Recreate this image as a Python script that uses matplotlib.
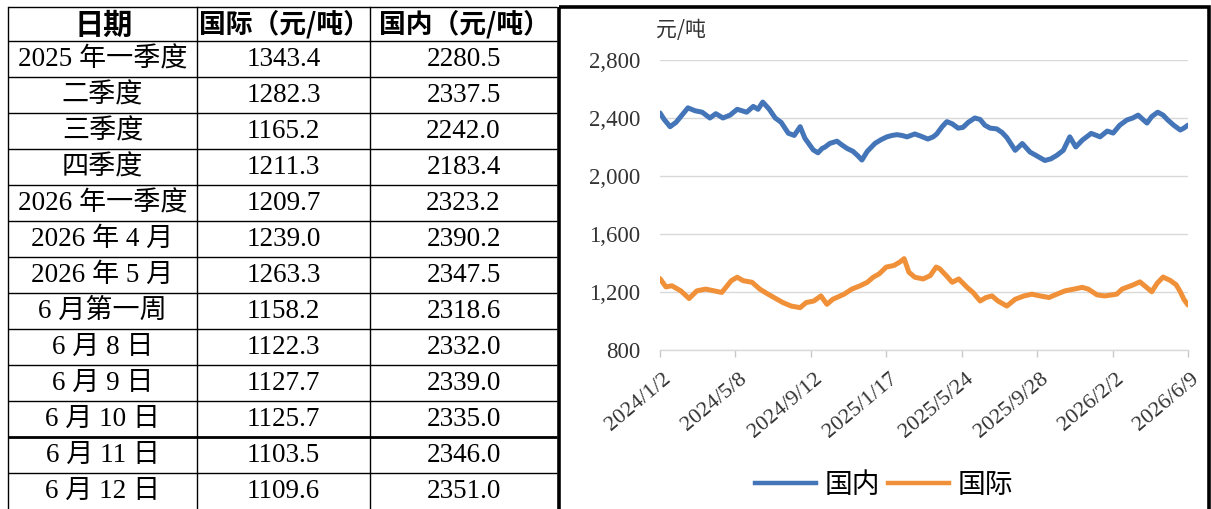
import matplotlib
matplotlib.use("Agg")
import matplotlib.pyplot as plt
import matplotlib.patches as mpatches
from matplotlib.lines import Line2D
from matplotlib.transforms import ScaledTranslation
import pandas as pd

plt.rcParams['font.family'] = ['Liberation Serif', 'Noto Sans CJK SC', 'DejaVu Sans']

# ---------------- table data ----------------
table_header = ["日期", "国际（元/吨）", "国内（元/吨）"]
table_dates = ["2025 年一季度", "二季度", "三季度", "四季度", "2026 年一季度",
               "2026 年 4 月", "2026 年 5 月", "6 月第一周", "6 月 8 日", "6 月 9 日",
               "6 月 10 日", "6 月 11 日", "6 月 12 日"]
table_intl = ["1343.4", "1282.3", "1165.2", "1211.3", "1209.7", "1239.0", "1263.3",
              "1158.2", "1122.3", "1127.7", "1125.7", "1103.5", "1109.6"]
table_dom = ["2280.5", "2337.5", "2242.0", "2183.4", "2323.2", "2390.2", "2347.5",
             "2318.6", "2332.0", "2339.0", "2335.0", "2346.0", "2351.0"]

# ---------------- chart data ----------------
start_date = "2024-01-02"
dom_days = [0, 7, 17, 27, 37, 47, 59, 71, 84, 94, 106, 118, 130, 138, 146, 157, 165, 173,
            184, 194, 204, 216, 226, 236, 244, 258, 266, 273, 278, 286, 298, 306, 315, 325,
            333, 340, 349, 362, 372, 382, 391, 399, 407, 416, 429, 439, 451, 460, 466, 475,
            483, 492, 502, 510, 519, 530, 539, 547, 556, 567, 576, 584, 598, 610, 623, 633,
            648, 658, 668, 679, 690, 700, 711, 726, 741, 753, 763, 774, 786, 796, 805, 813,
            820, 828, 838, 847, 855, 865, 876, 882, 889]
dom_vals = [2435, 2390, 2340, 2370, 2420, 2470, 2450, 2440, 2400, 2430, 2400, 2420, 2460,
            2450, 2440, 2480, 2460, 2510, 2460, 2400, 2370, 2295, 2280, 2340, 2260, 2180,
            2160, 2190, 2200, 2225, 2240, 2215, 2190, 2170, 2140, 2110, 2170, 2225, 2250,
            2270, 2280, 2285, 2280, 2270, 2290, 2275, 2255, 2270, 2290, 2340, 2375, 2360,
            2330, 2335, 2370, 2400, 2390, 2350, 2330, 2325, 2300, 2265, 2177, 2224, 2165,
            2142, 2107, 2118, 2142, 2177, 2270, 2200, 2247, 2294, 2270, 2310, 2296, 2350,
            2386, 2400, 2420, 2390, 2365, 2410, 2440, 2420, 2386, 2350, 2317, 2330, 2351]
intl_days = [0, 10, 20, 35, 49, 62, 77, 91, 104, 120, 130, 140, 155, 168, 182, 197, 207,
             221, 236, 246, 259, 271, 281, 291, 310, 323, 337, 349, 359, 369, 381, 394, 404,
             411, 419, 429, 443, 455, 465, 471, 482, 492, 503, 517, 527, 539, 549, 559, 569,
             584, 598, 613, 626, 640, 655, 668, 682, 697, 711, 721, 736, 749, 769, 778, 796,
             808, 828, 837, 847, 859, 869, 876, 882, 889]
intl_vals = [1292, 1235, 1243, 1208, 1155, 1208, 1220, 1208, 1197, 1278, 1302, 1278, 1267,
             1220, 1185, 1150, 1127, 1103, 1092, 1127, 1138, 1173, 1115, 1150, 1185, 1220,
             1243, 1267, 1302, 1325, 1372, 1383, 1407, 1430, 1337, 1302, 1290, 1313, 1372,
             1360, 1313, 1267, 1290, 1232, 1197, 1138, 1162, 1173, 1138, 1103, 1150, 1173,
             1185, 1173, 1162, 1185, 1208, 1220, 1232, 1220, 1180, 1173, 1185, 1220, 1248,
             1270, 1202, 1260, 1303, 1280, 1250, 1202, 1150, 1110]
x_tick_labels = ["2024/1/2", "2024/5/8", "2024/9/12", "2025/1/17", "2025/5/24",
                 "2025/9/28", "2026/2/2", "2026/6/9"]
y_ticks = [800, 1200, 1600, 2000, 2400, 2800]
series_names = ["国内", "国际"]
series_colors = ["#4475B8", "#F0913A"]

W, H = 1211, 509
fig = plt.figure(figsize=(W / 100, H / 100), dpi=100)
fig.patch.set_facecolor("white")

# ---------------- table (pixel overlay) ----------------
ax_t = fig.add_axes([0, 0, 1, 1])
ax_t.set_xlim(0, W)
ax_t.set_ylim(H, 0)
ax_t.axis("off")

col_edges = [8, 197, 370, 557]
row_edges = [6.5, 40.5, 76.5, 112.5, 148.5, 184.5, 220.5, 256.5, 292.5, 328.5,
             364.5, 400.5, 436.5, 472.5, 509]
for i, y in enumerate(row_edges[:-1]):
    lw = 1.0
    if i == 12:
        lw = 2.0
    ax_t.plot([col_edges[0], col_edges[-1]], [y, y], color="black", lw=lw,
              solid_capstyle="butt")
for x in col_edges[:-1]:
    ax_t.plot([x, x], [row_edges[0], H], color="black", lw=1.0)

col_centers = [(col_edges[i] + col_edges[i + 1]) / 2 for i in range(3)]
hdr_y = (row_edges[0] + row_edges[1]) / 2 + 1
hdr_sizes = [21, 19.3, 19.3]
for cx, txt, fs in zip(col_centers, table_header, hdr_sizes):
    ax_t.text(cx + 1, hdr_y, txt, ha="center", va="center", fontsize=fs,
              family=["Noto Sans CJK SC"], weight="bold", color="black")
for r in range(len(table_dates)):
    cy = (row_edges[r + 1] + row_edges[r + 2]) / 2 + 1
    for cx, txt in zip(col_centers, [table_dates[r], table_intl[r], table_dom[r]]):
        ax_t.text(cx, cy, txt, ha="center", va="center", fontsize=19.5,
                  family=["Liberation Serif", "Noto Sans CJK SC"], color="black")

# chart panel border
ax_t.add_patch(mpatches.Rectangle((558.5, 6.5), 650, 510, fill=False,
                                  edgecolor="black", lw=2.6, zorder=10))

# ---------------- line chart ----------------
x0, x1, y0, y1 = 660, 1188, 60, 350
ax = fig.add_axes([x0 / W, 1 - y1 / H, (x1 - x0) / W, (y1 - y0) / H])
ax.patch.set_alpha(0)

t0 = pd.Timestamp(start_date)
dom_dates = t0 + pd.to_timedelta(dom_days, unit="D")
intl_dates = t0 + pd.to_timedelta(intl_days, unit="D")
tick_dates = pd.to_datetime(x_tick_labels, format="%Y/%m/%d")

l1, = ax.plot(dom_dates, dom_vals, color=series_colors[0], lw=3.6,
              solid_joinstyle="round", solid_capstyle="round")
l2, = ax.plot(intl_dates, intl_vals, color=series_colors[1], lw=3.6,
              solid_joinstyle="round", solid_capstyle="round")

ax.set_xlim(tick_dates[0], tick_dates[-1])
ax.set_ylim(800, 2800)
ax.set_yticks(y_ticks)
ax.set_yticklabels([f"{v:,}" for v in y_ticks])
ax.grid(axis="y", color="#d9d9d9", lw=1.0)
ax.set_axisbelow(True)
for s in ["top", "right", "left"]:
    ax.spines[s].set_visible(False)
ax.spines["bottom"].set_color("#d9d9d9")
ax.spines["bottom"].set_linewidth(1.0)
ax.tick_params(axis="y", length=0, pad=14, labelsize=16.5, labelcolor="#333333")
ax.tick_params(axis="x", length=5, color="#c8c8c8", width=1.0, pad=2,
               labelsize=16, labelcolor="#333333")
ax.set_xticks(tick_dates)
ax.set_xticklabels(x_tick_labels, rotation=40, ha="right", va="top",
                   rotation_mode="anchor")
for lbl in ax.get_xticklabels():
    lbl.set_transform(lbl.get_transform() + ScaledTranslation(3 / 100, -10 / 100,
                                                              fig.dpi_scale_trans))
for lbl in ax.get_yticklabels():
    lbl.set_family(["Liberation Serif"])
for lbl in ax.get_xticklabels():
    lbl.set_family(["Liberation Serif"])

fig.text(656 / W, 1 - 30 / H, "元/吨", ha="left", va="center", fontsize=15,
         family=["Noto Sans CJK SC"], color="#333333")

handles = [Line2D([], [], color=series_colors[0], lw=3.2),
           Line2D([], [], color=series_colors[1], lw=3.2)]
fig.legend(handles, series_names, loc="center", bbox_to_anchor=(884 / W, 1 - 485 / H),
           ncol=2, frameon=False, prop={"family": "Noto Sans CJK SC", "size": 20},
           handlelength=2.2, handletextpad=0.3, columnspacing=0.3)

fig.savefig("out.png", dpi=100, facecolor="white")
